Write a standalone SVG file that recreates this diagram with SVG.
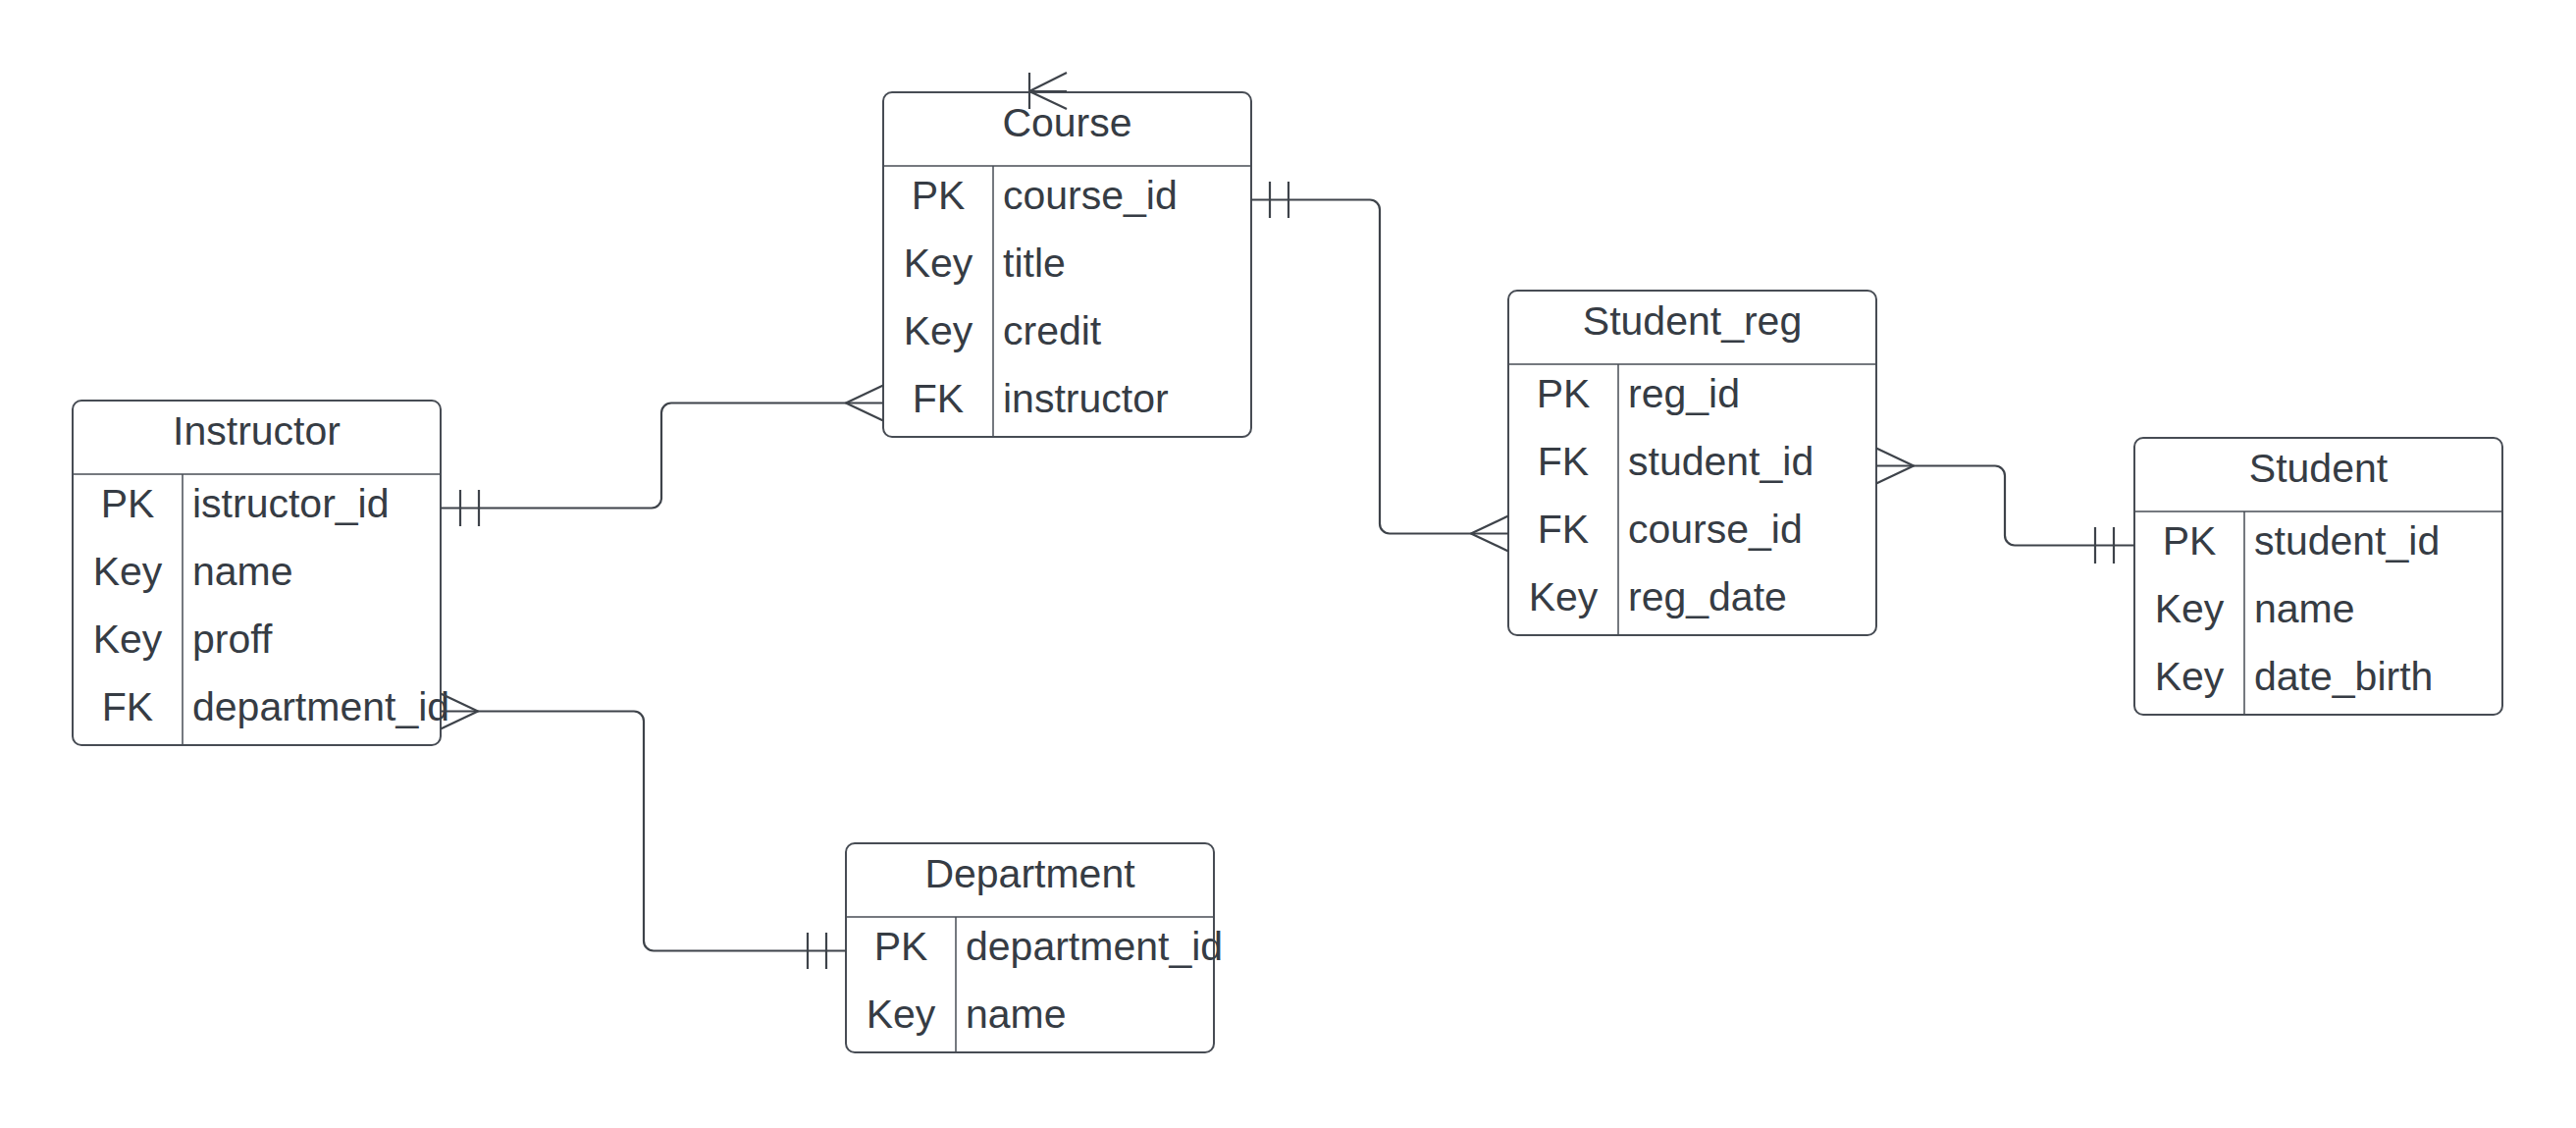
<svg xmlns="http://www.w3.org/2000/svg" width="2625" height="1149" viewBox="0 0 2625 1149">
<style>
.box{fill:#ffffff;stroke:#474c54;stroke-width:2}
.ln{stroke:#474c54;stroke-width:1.5;fill:none}
.t{font-family:"Liberation Sans",Arial,sans-serif;font-size:41px;fill:#363c44}
.c{text-anchor:middle}
.con{stroke:#3e434a;stroke-width:2.2;fill:none;stroke-linejoin:round}
</style>
<rect x="0" y="0" width="2625" height="1149" fill="#ffffff"/>

<g id="course">
  <rect class="box" x="900" y="94" width="375" height="351" rx="9"/>
  <line class="ln" x1="900" y1="169" x2="1275" y2="169"/>
  <line class="ln" x1="1012" y1="169" x2="1012" y2="445"/>
  <text class="t c" x="1087.5" y="139">Course</text>
  <text class="t c" x="956" y="213">PK</text><text class="t" x="1022" y="213">course_id</text>
  <text class="t c" x="956" y="282">Key</text><text class="t" x="1022" y="282">title</text>
  <text class="t c" x="956" y="351">Key</text><text class="t" x="1022" y="351">credit</text>
  <text class="t c" x="956" y="420">FK</text><text class="t" x="1022" y="420">instructor</text>
</g>

<g id="instructor">
  <rect class="box" x="74" y="408" width="375" height="351" rx="9"/>
  <line class="ln" x1="74" y1="483" x2="449" y2="483"/>
  <line class="ln" x1="186" y1="483" x2="186" y2="759"/>
  <text class="t c" x="261.5" y="453">Instructor</text>
  <text class="t c" x="130" y="527">PK</text><text class="t" x="196" y="527">istructor_id</text>
  <text class="t c" x="130" y="596">Key</text><text class="t" x="196" y="596">name</text>
  <text class="t c" x="130" y="665">Key</text><text class="t" x="196" y="665">proff</text>
  <text class="t c" x="130" y="734">FK</text><text class="t" x="196" y="734">department_id</text>
</g>

<g id="student_reg">
  <rect class="box" x="1537" y="296" width="375" height="351" rx="9"/>
  <line class="ln" x1="1537" y1="371" x2="1912" y2="371"/>
  <line class="ln" x1="1649" y1="371" x2="1649" y2="647"/>
  <text class="t c" x="1724.5" y="341">Student_reg</text>
  <text class="t c" x="1593" y="415">PK</text><text class="t" x="1659" y="415">reg_id</text>
  <text class="t c" x="1593" y="484">FK</text><text class="t" x="1659" y="484">student_id</text>
  <text class="t c" x="1593" y="553">FK</text><text class="t" x="1659" y="553">course_id</text>
  <text class="t c" x="1593" y="622">Key</text><text class="t" x="1659" y="622">reg_date</text>
</g>

<g id="student">
  <rect class="box" x="2175" y="446" width="375" height="282" rx="9"/>
  <line class="ln" x1="2175" y1="521" x2="2550" y2="521"/>
  <line class="ln" x1="2287" y1="521" x2="2287" y2="728"/>
  <text class="t c" x="2362.5" y="491">Student</text>
  <text class="t c" x="2231" y="565">PK</text><text class="t" x="2297" y="565">student_id</text>
  <text class="t c" x="2231" y="634">Key</text><text class="t" x="2297" y="634">name</text>
  <text class="t c" x="2231" y="703">Key</text><text class="t" x="2297" y="703">date_birth</text>
</g>

<g id="department">
  <rect class="box" x="862" y="859" width="375" height="213" rx="9"/>
  <line class="ln" x1="862" y1="934" x2="1237" y2="934"/>
  <line class="ln" x1="974" y1="934" x2="974" y2="1072"/>
  <text class="t c" x="1049.5" y="904">Department</text>
  <text class="t c" x="918" y="978">PK</text><text class="t" x="984" y="978">department_id</text>
  <text class="t c" x="918" y="1047">Key</text><text class="t" x="984" y="1047">name</text>
</g>

<g id="connectors">
  <!-- Instructor PK -> Course FK -->
  <path class="con" d="M449 517.5 H664 A10 10 0 0 0 674 507.5 V420.5 A10 10 0 0 1 684 410.5 H900"/>
  <path class="con" d="M469 499 V536 M488 499 V536"/>
  <path class="con" d="M900 392.5 L862 410.5 L900 428.5"/>
  <!-- Course PK -> Student_reg course_id -->
  <path class="con" d="M1275 203.5 H1396 A10 10 0 0 1 1406 213.5 V533.5 A10 10 0 0 0 1416 543.5 H1537"/>
  <path class="con" d="M1294 185 V222 M1313 185 V222"/>
  <path class="con" d="M1537 525.5 L1499 543.5 L1537 561.5"/>
  <!-- Student_reg student_id -> Student PK -->
  <path class="con" d="M1912 474.5 H2033 A10 10 0 0 1 2043 484.5 V545.5 A10 10 0 0 0 2053 555.5 H2175"/>
  <path class="con" d="M2135 537 V574 M2154 537 V574"/>
  <path class="con" d="M1912 456.5 L1950 474.5 L1912 492.5"/>
  <!-- Instructor FK -> Department PK -->
  <path class="con" d="M449 724.5 H646 A10 10 0 0 1 656 734.5 V958.5 A10 10 0 0 0 666 968.5 H862"/>
  <path class="con" d="M823 950 V987 M842 950 V987"/>
  <path class="con" d="M449 706.5 L487 724.5 L449 742.5"/>
  <!-- dangling symbol on Course top -->
  <path class="con" d="M1049 74 V111 M1087 74 L1049 93 L1087 111 M1049 93 H1087"/>
</g>
</svg>
